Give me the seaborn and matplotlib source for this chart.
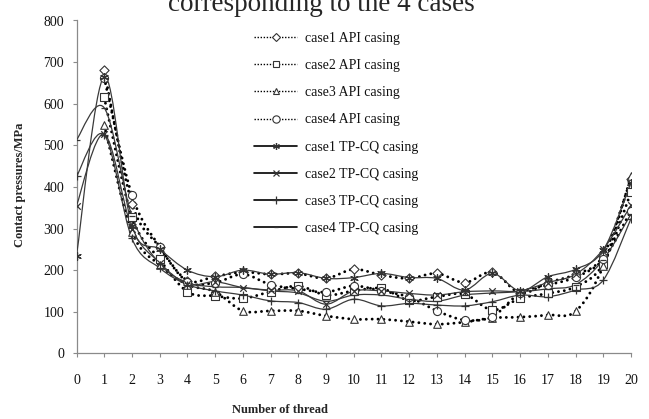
import numpy as np
import pandas as pd
import matplotlib
matplotlib.use("Agg")
import matplotlib.pyplot as plt
from matplotlib.path import Path
from matplotlib.patches import PathPatch
from matplotlib.lines import Line2D
import seaborn as sns

threads = list(range(21))
nan = np.nan

case1_api = [nan, 680, 360, 255, 175, 185, 195, 190, 192, 180, 202, 188, 180, 192, 170, 195, 145, 170, 190, 235, 420]
case2_api = [nan, 615, 328, 226, 148, 138, 132, 148, 162, 140, 150, 156, 127, 136, 142, 104, 132, 144, 160, 215, 388]
case3_api = [nan, 548, 292, 212, 165, 148, 102, 102, 102, 90, 82, 82, 76, 70, 75, 85, 87, 92, 101, 210, 426]
case4_api = [nan, 662, 380, 256, 172, 170, 190, 165, 155, 147, 162, 150, 135, 102, 80, 88, 145, 164, 183, 226, 343]
case1_tp = [235, 665, 305, 250, 200, 184, 200, 190, 194, 180, 182, 192, 182, 180, 152, 192, 150, 184, 202, 248, 410]
case2_tp = [355, 527, 300, 218, 166, 172, 158, 152, 150, 118, 150, 150, 144, 140, 148, 150, 150, 170, 190, 250, 356]
case3_tp = [425, 525, 276, 205, 165, 150, 140, 126, 122, 106, 130, 114, 120, 116, 114, 124, 140, 136, 152, 176, 324]
case4_tp = [513, 590, 330, 215, 170, 160, 158, 150, 145, 125, 140, 140, 130, 125, 140, 145, 148, 155, 165, 225, 335]

labels = ["case1 API casing", "case2 API casing", "case3 API casing", "case4 API casing",
          "case1 TP-CQ casing", "case2 TP-CQ casing", "case3 TP-CQ casing", "case4 TP-CQ casing"]
series = [case1_api, case2_api, case3_api, case4_api, case1_tp, case2_tp, case3_tp, case4_tp]
x_ticks = list(range(0, 21))
y_ticks = list(range(0, 801, 100))

sns.set_theme(style="white")
plt.rcParams["font.family"] = ["Liberation Serif", "DejaVu Serif"]

fig = plt.figure(figsize=(6.49, 4.19), dpi=100)
ax = fig.add_axes([76.5 / 649, 1 - 353.3 / 419, (631 - 76.5) / 649, (353.3 - 20.5) / 419])

api_markers = ["D", "s", "^", "o"]
api_sizes = [22, 28, 30, 34]
tp_markers = [(6, 2, 0), "x", "+", "_"]
tp_sizes = [30, 22, 40, 14]
mcol = "#333333"
lcol = "#3a3a3a"


def smooth_path(xs, ys):
    pts = [(x, y) for x, y in zip(xs, ys) if not np.isnan(y)]
    P = np.array(pts, dtype=float)
    n = len(P)
    verts = [tuple(P[0])]
    codes = [Path.MOVETO]
    for i in range(n - 1):
        p0 = P[i - 1] if i > 0 else P[i]
        p1 = P[i]
        p2 = P[i + 1]
        p3 = P[i + 2] if i + 2 < n else P[i + 1]
        c1 = p1 + (p2 - p0) / 6.0
        c2 = p2 - (p3 - p1) / 6.0
        verts += [tuple(c1), tuple(c2), tuple(p2)]
        codes += [Path.CURVE4] * 3
    return Path(verts, codes)


handles = []
for k, (lab, vals) in enumerate(zip(labels, series)):
    df = pd.DataFrame({"thread": threads, "pressure": vals}).dropna()
    if k < 4:
        patch = PathPatch(smooth_path(df["thread"], df["pressure"]), facecolor="none",
                          edgecolor="black", lw=2.1, linestyle=(0, (0.01, 2.0)),
                          capstyle="round", zorder=3)
        ax.add_patch(patch)
        sns.scatterplot(data=df, x="thread", y="pressure", marker=api_markers[k], s=api_sizes[k],
                        facecolor="white", edgecolor=mcol, linewidth=0.8, ax=ax, zorder=5)
        handles.append(Line2D([], [], color="black", lw=1.0, linestyle=(0, (1, 1.2)),
                              marker=api_markers[k], markersize=api_sizes[k] ** 0.5 * 0.9,
                              markerfacecolor="white", markeredgecolor=mcol, markeredgewidth=0.8))
    else:
        j = k - 4
        patch = PathPatch(smooth_path(df["thread"], df["pressure"]), facecolor="none",
                          edgecolor=lcol, lw=0.9, zorder=4)
        ax.add_patch(patch)
        sns.scatterplot(data=df, x="thread", y="pressure", marker=tp_markers[j], s=tp_sizes[j],
                        color=mcol, linewidth=0.9, ax=ax, zorder=6)
        handles.append(Line2D([], [], color="black", lw=1.2, marker=tp_markers[j],
                              markersize=tp_sizes[j] ** 0.5 * 0.9, markeredgecolor=mcol,
                              markeredgewidth=0.9))

ax.set_xlim(0, 20)
ax.set_ylim(0, 800)
ax.set_xticks(x_ticks)
ax.set_yticks(y_ticks)
ax.set_xticklabels([str(t) for t in x_ticks])
ax.set_yticklabels([str(t) for t in y_ticks])
ax.set_xlabel("")
ax.set_ylabel("")
for s in ["top", "right"]:
    ax.spines[s].set_visible(False)
for s in ["left", "bottom"]:
    ax.spines[s].set_color("#8a8a8a")
    ax.spines[s].set_linewidth(0.9)
ax.tick_params(axis="x", direction="out", length=3, width=0.8, color="#8a8a8a",
               pad=12, labelsize=10, labelcolor="#111111", bottom=True)
ax.tick_params(axis="y", direction="out", length=3, width=0.8, color="#8a8a8a",
               pad=6, labelsize=10, labelcolor="#111111", left=True)
ax.grid(False)

fig.text(20 / 649, 1 - 185 / 419, "Contact pressures/MPa", rotation=90, ha="center", va="center",
         fontsize=9, fontweight="bold")
fig.text(280 / 649, 1 - 410 / 419, "Number of thread", ha="center", va="center",
         fontsize=9, fontweight="bold")
fig.text(321 / 649, 1 - 11 / 419, "corresponding to the 4 cases", ha="center", va="baseline",
         fontsize=19.5)

leg = fig.legend(handles, labels, loc="upper left", bbox_to_anchor=(254 / 649, 1 - 32 / 419),
                 frameon=False, fontsize=10, handlelength=3.1, handletextpad=0.6,
                 labelspacing=1.02, borderpad=0, borderaxespad=0, numpoints=1)
for t in leg.get_texts():
    t.set_color("#111111")

fig.savefig("out.png", dpi=100)
